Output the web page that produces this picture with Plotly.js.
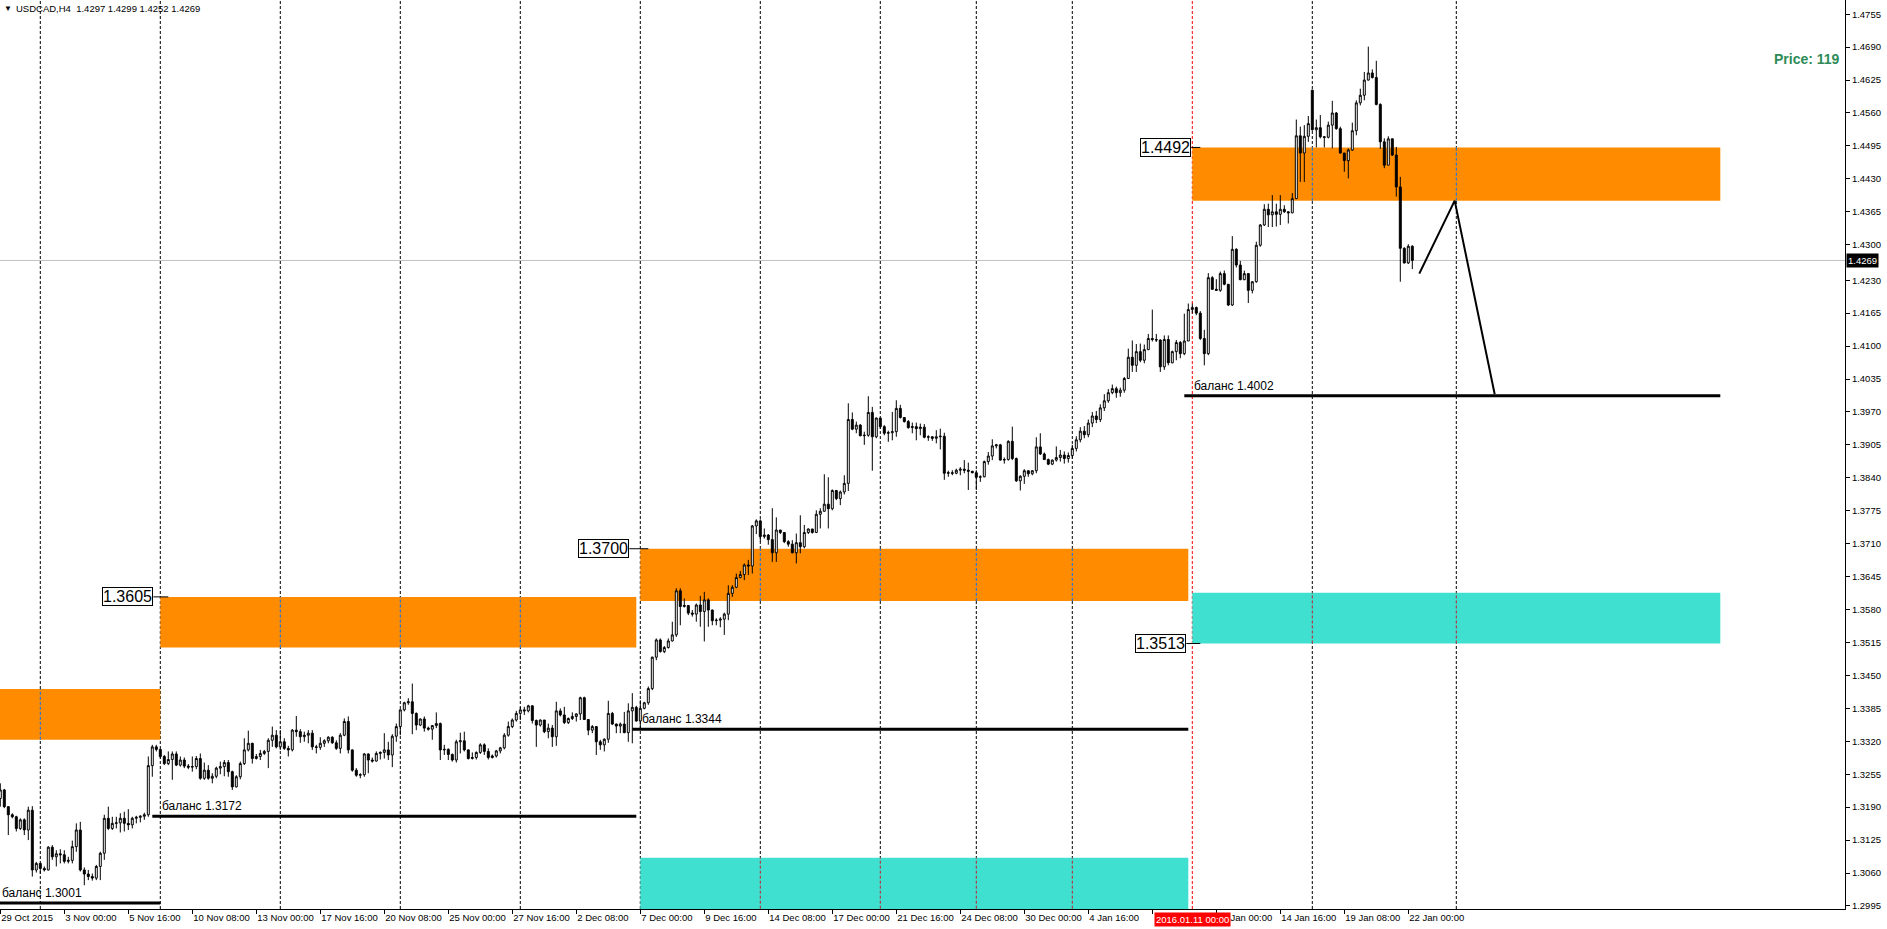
<!DOCTYPE html>
<html><head><meta charset="utf-8">
<script src="https://cdn.plot.ly/plotly-3.0.1.min.js"></script>
<style>html,body{margin:0;padding:0;background:#fff;overflow:hidden}#chart{width:1887px;height:929px}</style>
</head><body><div id="chart"></div>
<script>
// ---- USDCAD H4 candles (bar 0 = 29 Oct 2015 08:00) ----
const openP = [
1.3207,1.3224,1.3191,1.3175,1.3171,1.3148,1.3165,1.3145,1.3184,1.3066,
1.3079,1.3069,1.3066,1.3111,1.3092,1.3098,1.3096,1.3083,1.3085,1.3112,
1.3145,1.3066,1.3058,1.3053,1.3050,1.3073,1.3099,1.3168,1.3148,1.3158,
1.3159,1.3168,1.3158,1.3155,1.3168,1.3170,1.3172,1.3175,1.3272,1.3309,
1.3304,1.3290,1.3276,1.3284,1.3295,1.3273,1.3283,1.3271,1.3269,1.3270,
1.3286,1.3247,1.3263,1.3247,1.3251,1.3267,1.3270,1.3278,1.3260,1.3230,
1.3250,1.3276,1.3303,1.3316,1.3286,1.3290,1.3296,1.3300,1.3322,1.3332,
1.3309,1.3319,1.3306,1.3303,1.3342,1.3339,1.3329,1.3332,1.3336,1.3309,
1.3308,1.3316,1.3321,1.3328,1.3317,1.3306,1.3332,1.3359,1.3303,1.3263,
1.3253,1.3254,1.3295,1.3283,1.3281,1.3296,1.3298,1.3303,1.3293,1.3330,
1.3349,1.3382,1.3396,1.3398,1.3375,1.3352,1.3364,1.3346,1.3344,1.3351,
1.3355,1.3303,1.3304,1.3294,1.3283,1.3319,1.3321,1.3303,1.3286,1.3288,
1.3298,1.3313,1.3300,1.3288,1.3291,1.3301,1.3307,1.3332,1.3349,1.3362,
1.3375,1.3382,1.3380,1.3390,1.3361,1.3352,1.3362,1.3339,1.3346,1.3329,
1.3380,1.3372,1.3357,1.3365,1.3369,1.3374,1.3406,1.3363,1.3342,1.3349,
1.3319,1.3313,1.3324,1.3375,1.3354,1.3350,1.3354,1.3337,1.3380,1.3387,
1.3360,1.3385,1.3396,1.3424,1.3486,1.3520,1.3497,1.3505,1.3518,1.3530,
1.3617,1.3586,1.3588,1.3573,1.3571,1.3589,1.3576,1.3599,1.3579,1.3558,
1.3559,1.3561,1.3571,1.3612,1.3624,1.3643,1.3649,1.3668,1.3666,1.3745,
1.3755,1.3724,1.3727,1.3718,1.3692,1.3737,1.3732,1.3714,1.3709,1.3692,
1.3712,1.3704,1.3732,1.3739,1.3732,1.3768,1.3774,1.3788,1.3779,1.3815,
1.3799,1.3812,1.3829,1.3955,1.3936,1.3944,1.3923,1.3924,1.3969,1.3921,
1.3958,1.3941,1.3928,1.3929,1.3931,1.3977,1.3959,1.3951,1.3939,1.3941,
1.3937,1.3940,1.3920,1.3921,1.3918,1.3921,1.3922,1.3849,1.3850,1.3849,
1.3855,1.3857,1.3855,1.3853,1.3850,1.3841,1.3842,1.3872,1.3883,1.3903,
1.3905,1.3875,1.3876,1.3912,1.3878,1.3834,1.3843,1.3854,1.3848,1.3854,
1.3901,1.3887,1.3876,1.3867,1.3875,1.3880,1.3885,1.3878,1.3884,1.3898,
1.3915,1.3932,1.3925,1.3948,1.3962,1.3955,1.3978,1.3992,1.4008,1.4016,
1.4008,1.4013,1.4036,1.4078,1.4062,1.4089,1.4072,1.4093,1.4115,1.4113,
1.4112,1.4059,1.4113,1.4067,1.4089,1.4107,1.4085,1.4110,1.4172,1.4176,
1.4165,1.4115,1.4085,1.4235,1.4212,1.4210,1.4243,1.4222,1.4181,1.4291,
1.4260,1.4231,1.4243,1.4210,1.4227,1.4299,1.4339,1.4370,1.4359,1.4365,
1.4360,1.4370,1.4365,1.4363,1.4391,1.4515,1.4481,1.4514,1.4605,1.4527,
1.4531,1.4513,1.4512,1.4536,1.4560,1.4529,1.4481,1.4466,1.4487,1.4525,
1.4580,1.4595,1.4625,1.4639,1.4630,1.4577,1.4503,1.4457,1.4509,1.4477,
1.4414,1.4293,1.4264,1.4297];
const highP = [
1.3237,1.3226,1.3192,1.3178,1.3173,1.3168,1.3168,1.3191,1.3192,1.3082,
1.3079,1.3073,1.3113,1.3115,1.3105,1.3107,1.3105,1.3092,1.3124,1.3158,
1.3161,1.3071,1.3066,1.3059,1.3076,1.3102,1.3175,1.3191,1.3171,1.3171,
1.3178,1.3181,1.3186,1.3171,1.3173,1.3174,1.3179,1.3290,1.3313,1.3313,
1.3305,1.3293,1.3300,1.3300,1.3300,1.3290,1.3288,1.3275,1.3290,1.3291,
1.3296,1.3278,1.3273,1.3257,1.3270,1.3280,1.3283,1.3283,1.3262,1.3253,
1.3280,1.3326,1.3341,1.3317,1.3295,1.3303,1.3303,1.3326,1.3349,1.3342,
1.3342,1.3326,1.3311,1.3344,1.3370,1.3344,1.3339,1.3342,1.3342,1.3313,
1.3328,1.3324,1.3330,1.3330,1.3322,1.3336,1.3365,1.3369,1.3304,1.3267,
1.3257,1.3297,1.3296,1.3288,1.3300,1.3300,1.3336,1.3319,1.3334,1.3355,
1.3383,1.3398,1.3405,1.3434,1.3377,1.3365,1.3369,1.3349,1.3352,1.3377,
1.3357,1.3313,1.3306,1.3296,1.3323,1.3337,1.3339,1.3304,1.3298,1.3300,
1.3316,1.3316,1.3306,1.3294,1.3303,1.3309,1.3336,1.3359,1.3365,1.3380,
1.3388,1.3388,1.3392,1.3391,1.3363,1.3363,1.3362,1.3355,1.3352,1.3398,
1.3385,1.3388,1.3367,1.3377,1.3375,1.3408,1.3408,1.3363,1.3352,1.3350,
1.3323,1.3326,1.3400,1.3378,1.3355,1.3357,1.3378,1.3395,1.3415,1.3390,
1.3401,1.3398,1.3428,1.3487,1.3523,1.3523,1.3508,1.3523,1.3556,1.3622,
1.3622,1.3602,1.3589,1.3579,1.3592,1.3607,1.3615,1.3602,1.3580,1.3563,
1.3565,1.3574,1.3628,1.3628,1.3651,1.3656,1.3671,1.3678,1.3747,1.3758,
1.3758,1.3740,1.3729,1.3780,1.3762,1.3737,1.3732,1.3717,1.3717,1.3730,
1.3766,1.3747,1.3740,1.3739,1.3776,1.3780,1.3847,1.3841,1.3817,1.3816,
1.3815,1.3845,1.3987,1.3969,1.3951,1.3946,1.3931,1.4001,1.3980,1.3959,
1.3958,1.3944,1.3933,1.3970,1.3993,1.3984,1.3959,1.3954,1.3949,1.3949,
1.3947,1.3946,1.3924,1.3922,1.3934,1.3937,1.3929,1.3854,1.3855,1.3858,
1.3861,1.3875,1.3870,1.3853,1.3855,1.3845,1.3874,1.3891,1.3916,1.3907,
1.3907,1.3880,1.3914,1.3941,1.3880,1.3845,1.3857,1.3854,1.3855,1.3920,
1.3928,1.3890,1.3878,1.3876,1.3902,1.3895,1.3892,1.3890,1.3905,1.3922,
1.3940,1.3942,1.3955,1.3970,1.3972,1.3985,1.4005,1.4015,1.4024,1.4020,
1.4018,1.4039,1.4095,1.4111,1.4104,1.4105,1.4103,1.4124,1.4172,1.4124,
1.4113,1.4121,1.4121,1.4091,1.4112,1.4110,1.4164,1.4184,1.4184,1.4178,
1.4169,1.4132,1.4244,1.4238,1.4232,1.4247,1.4249,1.4222,1.4317,1.4293,
1.4268,1.4249,1.4243,1.4228,1.4306,1.4341,1.4380,1.4381,1.4398,1.4381,
1.4398,1.4378,1.4366,1.4402,1.4547,1.4533,1.4536,1.4554,1.4606,1.4547,
1.4556,1.4514,1.4543,1.4584,1.4562,1.4533,1.4481,1.4490,1.4541,1.4585,
1.4608,1.4641,1.4691,1.4646,1.4663,1.4579,1.4510,1.4514,1.4510,1.4493,
1.4434,1.4295,1.4301,1.4299];
const lowP = [
1.3191,1.3188,1.3135,1.3168,1.3142,1.3145,1.3135,1.3125,1.3053,1.3061,
1.3059,1.3063,1.3065,1.3086,1.3073,1.3079,1.3079,1.3079,1.3079,1.3102,
1.3063,1.3036,1.3046,1.3045,1.3046,1.3046,1.3086,1.3145,1.3145,1.3148,
1.3140,1.3142,1.3145,1.3148,1.3158,1.3160,1.3165,1.3171,1.3250,1.3300,
1.3286,1.3273,1.3273,1.3244,1.3271,1.3270,1.3267,1.3265,1.3260,1.3265,
1.3244,1.3244,1.3244,1.3237,1.3247,1.3255,1.3251,1.3250,1.3224,1.3229,
1.3245,1.3273,1.3300,1.3276,1.3284,1.3283,1.3293,1.3267,1.3309,1.3306,
1.3303,1.3303,1.3290,1.3300,1.3329,1.3317,1.3319,1.3316,1.3303,1.3296,
1.3303,1.3309,1.3316,1.3315,1.3303,1.3296,1.3330,1.3296,1.3260,1.3250,
1.3247,1.3250,1.3257,1.3278,1.3280,1.3284,1.3286,1.3283,1.3269,1.3319,
1.3332,1.3379,1.3392,1.3334,1.3342,1.3350,1.3339,1.3341,1.3323,1.3346,
1.3283,1.3293,1.3283,1.3280,1.3278,1.3296,1.3300,1.3284,1.3284,1.3284,
1.3295,1.3293,1.3284,1.3286,1.3288,1.3296,1.3304,1.3329,1.3346,1.3359,
1.3362,1.3372,1.3377,1.3355,1.3309,1.3349,1.3336,1.3326,1.3309,1.3311,
1.3369,1.3354,1.3354,1.3362,1.3359,1.3362,1.3362,1.3332,1.3336,1.3293,
1.3303,1.3300,1.3317,1.3352,1.3336,1.3336,1.3336,1.3319,1.3316,1.3359,
1.3346,1.3383,1.3392,1.3421,1.3480,1.3495,1.3494,1.3503,1.3517,1.3526,
1.3549,1.3584,1.3569,1.3566,1.3556,1.3546,1.3517,1.3546,1.3549,1.3549,
1.3545,1.3530,1.3559,1.3605,1.3622,1.3642,1.3638,1.3648,1.3651,1.3729,
1.3714,1.3720,1.3708,1.3674,1.3674,1.3729,1.3711,1.3704,1.3691,1.3671,
1.3691,1.3701,1.3729,1.3730,1.3732,1.3740,1.3773,1.3740,1.3776,1.3796,
1.3786,1.3807,1.3814,1.3934,1.3928,1.3922,1.3905,1.3921,1.3854,1.3918,
1.3937,1.3924,1.3911,1.3914,1.3921,1.3957,1.3949,1.3937,1.3928,1.3914,
1.3924,1.3918,1.3913,1.3913,1.3908,1.3896,1.3836,1.3842,1.3845,1.3847,
1.3845,1.3849,1.3816,1.3849,1.3816,1.3832,1.3841,1.3866,1.3875,1.3898,
1.3874,1.3868,1.3874,1.3875,1.3832,1.3815,1.3828,1.3842,1.3845,1.3849,
1.3885,1.3875,1.3865,1.3865,1.3872,1.3872,1.3868,1.3870,1.3878,1.3892,
1.3910,1.3918,1.3920,1.3940,1.3948,1.3950,1.3972,1.3988,1.4005,1.3998,
1.4000,1.4008,1.4036,1.4049,1.4049,1.4068,1.4066,1.4092,1.4109,1.4108,
1.4049,1.4053,1.4062,1.4066,1.4072,1.4076,1.4082,1.4110,1.4164,1.4161,
1.4112,1.4062,1.4082,1.4211,1.4209,1.4207,1.4220,1.4179,1.4179,1.4255,
1.4230,1.4230,1.4185,1.4204,1.4225,1.4296,1.4337,1.4335,1.4335,1.4336,
1.4339,1.4363,1.4342,1.4362,1.4390,1.4424,1.4424,1.4503,1.4525,1.4492,
1.4510,1.4492,1.4510,1.4490,1.4527,1.4480,1.4444,1.4431,1.4485,1.4516,
1.4575,1.4585,1.4624,1.4628,1.4575,1.4489,1.4451,1.4457,1.4475,1.4395,
1.4227,1.4263,1.4262,1.4252];
const closeP = [
1.3224,1.3191,1.3175,1.3171,1.3148,1.3165,1.3145,1.3184,1.3066,1.3079,
1.3069,1.3066,1.3111,1.3092,1.3098,1.3096,1.3083,1.3085,1.3112,1.3145,
1.3066,1.3058,1.3053,1.3050,1.3073,1.3099,1.3168,1.3148,1.3158,1.3159,
1.3168,1.3158,1.3155,1.3168,1.3170,1.3172,1.3175,1.3272,1.3309,1.3304,
1.3290,1.3276,1.3284,1.3295,1.3273,1.3283,1.3271,1.3269,1.3270,1.3286,
1.3247,1.3263,1.3247,1.3251,1.3267,1.3270,1.3278,1.3260,1.3230,1.3250,
1.3276,1.3303,1.3316,1.3286,1.3290,1.3296,1.3300,1.3322,1.3332,1.3309,
1.3319,1.3306,1.3303,1.3342,1.3339,1.3329,1.3332,1.3336,1.3309,1.3308,
1.3316,1.3321,1.3328,1.3317,1.3306,1.3332,1.3359,1.3303,1.3263,1.3253,
1.3254,1.3295,1.3283,1.3281,1.3296,1.3298,1.3303,1.3293,1.3330,1.3349,
1.3382,1.3396,1.3398,1.3375,1.3352,1.3364,1.3346,1.3344,1.3351,1.3355,
1.3303,1.3304,1.3294,1.3283,1.3319,1.3321,1.3303,1.3286,1.3288,1.3298,
1.3313,1.3300,1.3288,1.3291,1.3301,1.3307,1.3332,1.3349,1.3362,1.3375,
1.3382,1.3380,1.3390,1.3361,1.3352,1.3362,1.3339,1.3346,1.3329,1.3380,
1.3372,1.3357,1.3365,1.3369,1.3374,1.3406,1.3363,1.3342,1.3349,1.3319,
1.3313,1.3324,1.3375,1.3354,1.3350,1.3354,1.3337,1.3380,1.3387,1.3360,
1.3385,1.3396,1.3424,1.3486,1.3520,1.3497,1.3505,1.3518,1.3530,1.3617,
1.3586,1.3588,1.3573,1.3571,1.3589,1.3576,1.3599,1.3579,1.3558,1.3559,
1.3561,1.3571,1.3612,1.3624,1.3643,1.3649,1.3668,1.3666,1.3745,1.3755,
1.3724,1.3727,1.3718,1.3692,1.3737,1.3732,1.3714,1.3709,1.3692,1.3712,
1.3704,1.3732,1.3739,1.3732,1.3768,1.3774,1.3788,1.3779,1.3815,1.3799,
1.3812,1.3829,1.3955,1.3936,1.3944,1.3923,1.3924,1.3969,1.3921,1.3958,
1.3941,1.3928,1.3929,1.3931,1.3977,1.3959,1.3951,1.3939,1.3941,1.3937,
1.3940,1.3920,1.3921,1.3918,1.3921,1.3922,1.3849,1.3850,1.3849,1.3855,
1.3857,1.3855,1.3853,1.3850,1.3841,1.3842,1.3872,1.3883,1.3903,1.3905,
1.3875,1.3876,1.3912,1.3878,1.3834,1.3843,1.3854,1.3848,1.3854,1.3901,
1.3887,1.3876,1.3867,1.3875,1.3880,1.3885,1.3878,1.3884,1.3898,1.3915,
1.3932,1.3925,1.3948,1.3962,1.3955,1.3978,1.3992,1.4008,1.4016,1.4008,
1.4013,1.4036,1.4078,1.4062,1.4089,1.4072,1.4093,1.4115,1.4113,1.4112,
1.4059,1.4113,1.4067,1.4089,1.4107,1.4085,1.4110,1.4172,1.4176,1.4165,
1.4115,1.4085,1.4235,1.4212,1.4210,1.4243,1.4222,1.4181,1.4291,1.4260,
1.4231,1.4243,1.4210,1.4227,1.4299,1.4339,1.4370,1.4359,1.4365,1.4360,
1.4370,1.4365,1.4363,1.4391,1.4515,1.4481,1.4514,1.4539,1.4527,1.4531,
1.4513,1.4512,1.4536,1.4560,1.4529,1.4481,1.4466,1.4487,1.4525,1.4580,
1.4595,1.4625,1.4639,1.4630,1.4577,1.4503,1.4457,1.4509,1.4477,1.4414,
1.4293,1.4264,1.4297,1.4269];

// x-axis labels (bar index -> label); the 7 Jan 08:00 label is hidden under the red date tag in the original
const tickBars = [0,16,32,48,64,80,96,112,128,144,160,176,192,208,224,240,256,272,288,304,320,336,352];
const tickLabels = ["29 Oct 2015","3 Nov 00:00","5 Nov 16:00","10 Nov 08:00","13 Nov 00:00","17 Nov 16:00","20 Nov 08:00","25 Nov 00:00","27 Nov 16:00","2 Dec 08:00","7 Dec 00:00","9 Dec 16:00","14 Dec 08:00","17 Dec 00:00","21 Dec 16:00","24 Dec 08:00","30 Dec 00:00","4 Jan 16:00","","12 Jan 00:00","14 Jan 16:00","19 Jan 08:00","22 Jan 00:00"];
const priceTicks = [1.2995,1.3060,1.3125,1.3190,1.3255,1.3320,1.3385,1.3450,1.3515,1.3580,1.3645,1.3710,1.3775,1.3840,1.3905,1.3970,1.4035,1.4100,1.4165,1.4230,1.4300,1.4365,1.4430,1.4495,1.4560,1.4625,1.4690,1.4755];

// weekly period separators (bar index of Monday 00:00), red = 2016.01.11
const weekBars = [10,40,70,100,130,160,190,220,244,268,328,364];
const markedBar = 298;
const markedLabel = "2016.01.11 00:00";

// zones
const zoneFrom = [-2, 40, 160, 160, 298, 298];
const zoneTo   = [40, 159, 297, 297, 430, 430];
const zoneLow  = [1.3323, 1.3505, 1.3597, 1.2960, 1.4387, 1.3513];
const zoneHigh = [1.3423, 1.3605, 1.3700, 1.3090, 1.4492, 1.3613];
const zoneKind = ["sell","sell","sell","buy","sell","buy"];

// balance lines
const balFrom  = [-0.07, 40, 160, 298];
const balTo    = [40, 159, 297, 430];
const balLevel = [1.3001, 1.3172, 1.3344, 1.4002];

// price level tags
const tagBar   = [40, 160, 298, 298];
const tagLevel = [1.3605, 1.3700, 1.4492, 1.3513];

// projected path
const pathBar   = [354.75, 363.6, 373.6];
const pathPrice = [1.4243, 1.4387, 1.4005];

const symbol = "USDCAD,H4";
const lastO = 1.4297, lastH = 1.4299, lastL = 1.4252, lastC = 1.4269;
const priceInfo = "Price: 119";

// ---------- build ----------
const bars = openP.map((_, i) => i);
const FONT = "Liberation Sans, Arial, sans-serif";
const ORANGE = "#FF8C00", CYAN = "#40E0D0";

const shapes = [];
zoneFrom.forEach((f, k) => {
  shapes.push({type:"rect", xref:"x", yref:"y", x0:f, x1:zoneTo[k], y0:zoneLow[k], y1:zoneHigh[k],
    fillcolor: zoneKind[k]==="sell"?ORANGE:CYAN, line:{width:0}, layer:"below"});
});
shapes.push({type:"line", xref:"paper", yref:"y", x0:0, x1:1, y0:lastC, y1:lastC, line:{color:"#C0C0C0", width:1}, layer:"below"});
weekBars.forEach(b => {
  shapes.push({type:"line", xref:"x", yref:"paper", x0:b, x1:b, y0:0, y1:1, line:{color:"#000", width:1, dash:"3px,2px"}, layer:"below"});
  zoneFrom.forEach((f, k) => {
    if (b > f && b < zoneTo[k]) {
      shapes.push({type:"line", xref:"x", yref:"y", x0:b, x1:b, y0:zoneLow[k], y1:zoneHigh[k],
        line:{color: zoneKind[k]==="sell"?"#0073FF":"#BF1F2F", width:1, dash:"3px,2px"}, layer:"below"});
    }
  });
});
shapes.push({type:"line", xref:"x", yref:"paper", x0:markedBar, x1:markedBar, y0:0, y1:1, line:{color:"#FF0000", width:1, dash:"3px,2px"}, layer:"below"});
balLevel.forEach((lv, k) => {
  shapes.push({type:"line", xref:"x", yref:"y", x0:balFrom[k]-2, x1:balTo[k], y0:lv, y1:lv, line:{color:"#000", width:3}});
});
const tagShift = [-7, -11, -1, -6];
tagLevel.forEach((lv, k) => {
  shapes.push({type:"line", xref:"x", yref:"y", x0:tagBar[k] + tagShift[k]/4, x1:tagBar[k]+2, y0:lv, y1:lv, line:{color:"#000", width:1}});
});

const annotations = [];
annotations.push({xref:"paper", yref:"paper", x:0, y:1, xanchor:"left", yanchor:"top", xshift:2, yshift:-2, showarrow:false,
  text:"▼", font:{family:FONT, size:8, color:"#000"}});
annotations.push({xref:"paper", yref:"paper", x:0, y:1, xanchor:"left", yanchor:"top", xshift:14, yshift:-1, showarrow:false,
  text: symbol + "\u00A0\u00A0" + [lastO,lastH,lastL,lastC].map(v=>v.toFixed(4)).join(" "), font:{family:FONT, size:9.5, color:"#000"}});
annotations.push({xref:"paper", yref:"paper", x:1, y:1-59/909, xanchor:"right", yanchor:"middle", xshift:-3, showarrow:false,
  text:"<b>"+priceInfo+"</b>", font:{family:FONT, size:14, color:"#2E8B57"}});
annotations.push({xref:"paper", yref:"y", x:1, y:lastC, xanchor:"left", yanchor:"middle", xshift:1, showarrow:false,
  text:lastC.toFixed(4), bgcolor:"#000", borderpad:1, font:{family:FONT, size:9.5, color:"#fff"}});
annotations.push({xref:"x", yref:"paper", x:markedBar, y:0, xanchor:"center", yanchor:"top", yshift:-3, showarrow:false,
  text:markedLabel, bgcolor:"#FF0000", borderpad:1, font:{family:FONT, size:9.5, color:"#fff"}});
balLevel.forEach((lv, k) => {
  annotations.push({xref:"x", yref:"y", x:balFrom[k], y:lv, xanchor:"left", yanchor:"bottom", yshift:1, showarrow:false,
    text:"баланс " + lv.toFixed(4), font:{family:FONT, size:12, color:"#000"}});
});
tagLevel.forEach((lv, k) => {
  annotations.push({xref:"x", yref:"y", x:tagBar[k], y:lv, xanchor:"right", yanchor:"middle", xshift:tagShift[k], showarrow:false,
    text:lv.toFixed(4), bgcolor:"#fff", bordercolor:"#000", borderwidth:1, borderpad:0, font:{family:FONT, size:16, color:"#000"}});
});

const traces = [
  {type:"candlestick", x:bars, open:openP, high:highP, low:lowP, close:closeP,
   increasing:{line:{color:"#000", width:1}, fillcolor:"#fff"},
   decreasing:{line:{color:"#000", width:1}, fillcolor:"#000"},
   whiskerwidth:0, hoverinfo:"skip", showlegend:false},
  {type:"scatter", mode:"lines", x:pathBar, y:pathPrice, line:{color:"#000", width:2}, hoverinfo:"skip", showlegend:false}
];

const layout = {
  width:1887, height:929,
  margin:{l:0, r:42, t:0, b:20, pad:0},
  paper_bgcolor:"#fff", plot_bgcolor:"#fff",
  showlegend:false,
  font:{family:FONT, size:9.5, color:"#000"},
  xaxis:{type:"linear", range:[-0.075, 461.175], showgrid:false, zeroline:false,
    showline:true, linecolor:"#000", linewidth:1, ticks:"outside", ticklen:4, tickcolor:"#000",
    tickvals:tickBars, ticktext:tickLabels, ticklabelposition:"outside right", tickangle:0,
    tickfont:{family:FONT, size:9.5, color:"#000"}, rangeslider:{visible:false}, fixedrange:true, automargin:false},
  yaxis:{side:"right", range:[1.2989, 1.4783], showgrid:false, zeroline:false,
    showline:true, linecolor:"#000", linewidth:1, ticks:"outside", ticklen:4, tickcolor:"#000",
    tickvals:priceTicks, tickformat:".4f", tickfont:{family:FONT, size:9.5, color:"#000"}, fixedrange:true, automargin:false},
  shapes, annotations
};
Plotly.newPlot("chart", traces, layout, {displayModeBar:false, staticPlot:true});
</script></body></html>
